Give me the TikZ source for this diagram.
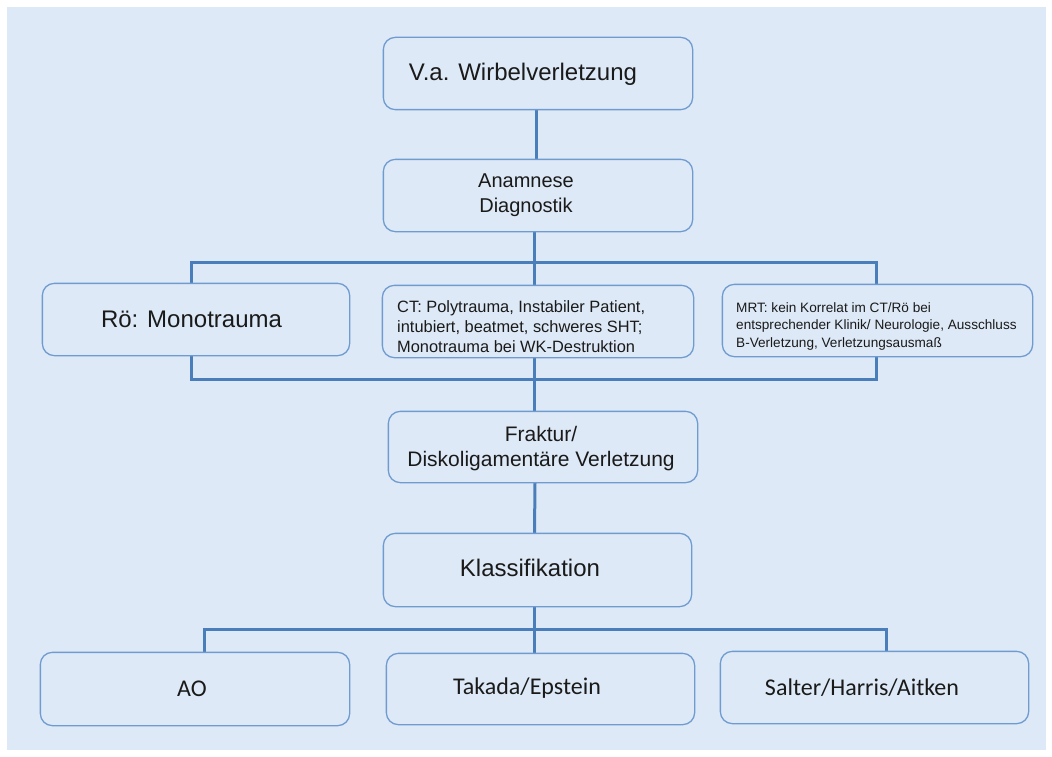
\documentclass[tikz,border=0pt]{standalone}
\usepackage{fontspec}
\setmainfont{Liberation Sans}
\newfontfamily\calib{Carlito}
\definecolor{bgblue}{HTML}{DDE9F6}
\definecolor{boxline}{HTML}{6F9BD0}
\definecolor{connline}{HTML}{4A7EBB}
\definecolor{txt}{HTML}{1A1A1A}
\tikzset{
  box/.style={draw=boxline, line width=1.3pt, fill=bgblue, rounded corners=12pt,
    minimum width=#1, minimum height=71pt, inner sep=0pt},
  box/.default=308pt,
  conn/.style={draw=connline, line width=3pt},
  lbl/.style={inner sep=0pt, text=txt},
}
\begin{document}
\begin{tikzpicture}[x=1pt,y=-1pt]
\useasboundingbox (0,0) rectangle (1052,757);
\fill[white] (0,0) rectangle (1052,757);
\fill[bgblue] (7,7) rectangle (1046,750);

% coordinates for brackets
\coordinate (tl) at (191,262);
\coordinate (tr) at (876,262);
\coordinate (bl) at (191,379);
\coordinate (br) at (876,379);
\coordinate (kl1) at (204,629);
\coordinate (kr1) at (886,629);

% boxes
\node[box] (b1) at (538,73.5) {};
\node[box] (b2) at (538,195.5) {};
\node[box=306pt] (ro) at (196,319.5) {};
\node[box=310pt] (ct) at (538,321.5) {};
\node[box=309pt] (mrt) at (877.5,320.5) {};
\node[box, minimum height=70pt] (fr) at (543,447) {};
\node[box=307pt, minimum height=72pt] (kl) at (537.5,570) {};
\node[box, minimum height=72pt] (ao) at (195,689) {};
\node[box=307pt, minimum height=70pt] (tak) at (540.5,689) {};
\node[box=307pt] (sal) at (874.5,687.5) {};

% connectors
\path[conn] ([xshift=-2pt]b1.south) -- ([xshift=-2pt]b2.north);
\path[conn] ([xshift=-4pt]b2.south) -- ([xshift=-4pt]ct.north);
\path[conn] (ro.north -| tl) -- (tl) -- (tr) -- (mrt.north -| tr);
\path[conn] (ro.south -| bl) -- (bl) -- (br) -- (mrt.south -| br);
\path[conn] ([xshift=-4pt]ct.south) -- ([xshift=-9pt]fr.north);
\path[conn] ([xshift=-8pt]fr.south) -- ([xshift=-3pt]kl.north);
\path[conn] ([xshift=-3pt]kl.south) -- ([xshift=-6pt]tak.north);
\path[conn] (ao.north -| kl1) -- (kl1) -- (kr1) -- (sal.north -| kr1);

% redraw boxes over connectors
\foreach \n in {b1,b2,ro,ct,mrt,fr,kl,ao,tak,sal}{
  \draw[draw=boxline, line width=1.3pt, rounded corners=12pt, fill=bgblue]
    (\n.north west) rectangle (\n.south east);
}

% texts
\node[lbl, anchor=base, font=\fontsize{24}{28}\selectfont] (t1) at (523,81) {V.a. Wirbelverletzung};
\node[lbl, align=center, font=\fontsize{20}{25}\selectfont] (t2) at (526,195.5) {Anamnese\\Diagnostik};
\node[lbl, anchor=base, font=\fontsize{24}{28}\selectfont] (t3) at (191.5,327) {Rö: Monotrauma};
\node[lbl, anchor=west, align=left, font=\fontsize{16.4}{20}\selectfont] (t4) at (397,327)
  {CT: Polytrauma, Instabiler Patient,\\
   intubiert, beatmet, schweres SHT;\\
   Monotrauma bei WK-Destruktion};
\node[lbl, anchor=west, align=left, font=\fontsize{13.6}{17.5}\selectfont] (t5) at (736,326)
  {MRT: kein Korrelat im CT/Rö bei\\
   entsprechender Klinik/ Neurologie, Ausschluss\\
   B-Verletzung, Verletzungsausmaß};
\node[lbl, align=center, font=\fontsize{21}{25}\selectfont] (t6) at (541,449)
  {Fraktur/\\Diskoligamentäre Verletzung};
\node[lbl, anchor=base, font=\fontsize{24}{28}\selectfont] (t7) at (530,576) {Klassifikation};
\node[lbl, anchor=base, font=\calib\fontsize{24}{28}\selectfont] (t8) at (192,696) {AO};
\node[lbl, anchor=base, font=\calib\fontsize{24}{28}\selectfont] (t9) at (527,694) {Takada/Epstein};
\node[lbl, anchor=base, font=\calib\fontsize{24}{28}\selectfont] (t10) at (862,695) {Salter/Harris/Aitken};
\end{tikzpicture}
\end{document}
